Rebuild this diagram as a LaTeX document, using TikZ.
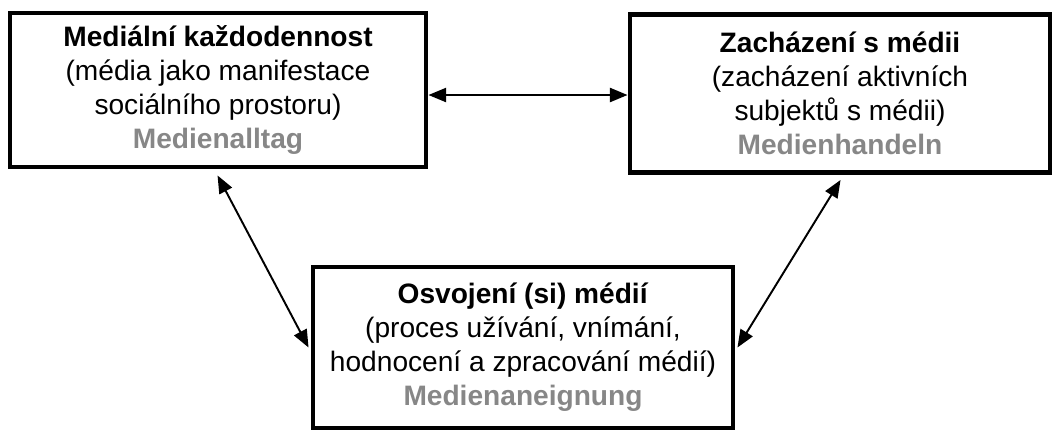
\documentclass[tikz,border=0pt]{standalone}
\usepackage{fontspec}
\setmainfont{Liberation Sans}
\usepackage{tikz}
\usetikzlibrary{arrows.meta}

\definecolor{germangray}{RGB}{135,135,135}
\tikzset{
  box/.style={draw, line width=2.8pt, align=center, inner sep=0pt,
    font=\fontsize{16}{19.4}\selectfont},
  link/.style={{Triangle[length=10pt,width=8pt]}-{Triangle[length=10pt,width=8pt]}, line width=1.1pt}
}

\begin{document}
\begin{tikzpicture}
\useasboundingbox (0,0) rectangle (21.08,-8.62);
\node[box, minimum width=8.32cm, minimum height=3.08cm](alltag) at (4.36,-1.80)
  {\textbf{Mediální každodennost}\\(média jako manifestace\\sociálního prostoru)\\\textcolor{germangray}{\textbf{Medienalltag}}};
\node[box, minimum width=8.4cm, minimum height=3.16cm](handeln) at (16.8,-1.87)
  {\textbf{Zacházení s médii}\\(zacházení aktivních\\subjektů s médii)\\\textcolor{germangray}{\textbf{Medienhandeln}}};
\node[box, minimum width=8.4cm, minimum height=3.22cm](aneignung) at (10.46,-6.95)
  {\textbf{Osvojení (si) médií}\\(proces užívání, vnímání,\\hodnocení a zpracování médií)\\\textcolor{germangray}{\textbf{Medienaneignung}}};
%
\draw[link]([yshift=-0.1cm]alltag.east) -- ([yshift=-0.1cm]alltag.east -| handeln.west);
\draw[link]([xshift=4.2cm,yshift=-0.12cm]alltag.south west) -- ([xshift=-0.04cm]aneignung.west);
\draw[link]([xshift=4.26cm,yshift=-0.1cm]handeln.south west) -- ([xshift=0.04cm]aneignung.east);
\end{tikzpicture}
\end{document}
